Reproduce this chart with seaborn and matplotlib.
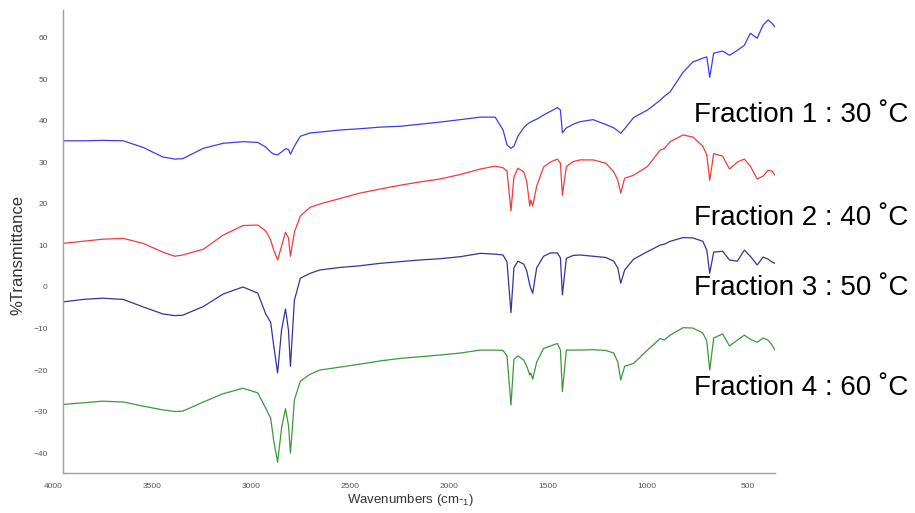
import matplotlib
matplotlib.use("Agg")
import matplotlib.pyplot as plt
import seaborn as sns
import numpy as np
from matplotlib.ticker import MultipleLocator

# wavenumber grid (cm-1) the four spectra were read at
wavenumbers = [4000, 3900, 3800, 3695, 3595, 3495, 3435, 3395, 3290, 3190,
               3090, 3015, 2975, 2950, 2935, 2915, 2895, 2875, 2860, 2850,
               2830, 2800, 2750, 2700, 2600, 2500, 2395, 2295, 2195, 2095,
               1990, 1890, 1815, 1775, 1755, 1735, 1720, 1700, 1670, 1655,
               1640, 1635, 1625, 1605, 1570, 1535, 1500, 1485, 1475, 1455,
               1420, 1385, 1320, 1255, 1215, 1195, 1180, 1160, 1115, 1045,
               980, 960, 930, 865, 815, 765, 745, 730, 710, 665,
               630, 590, 555, 525, 490, 460, 435, 415, 400]

# %T values, one list per fraction
frac1 = [35.2, 35.2, 35.3, 35.2, 33.6, 31.3, 30.8, 30.9, 33.4, 34.6,
         35.0, 34.8, 33.7, 32.5, 32.0, 31.8, 32.5, 33.3, 33.1, 32.0,
         33.9, 36.3, 37.1, 37.3, 37.8, 38.1, 38.5, 38.7, 39.2, 39.7,
         40.3, 40.9, 40.9, 37.8, 34.2, 33.4, 33.9, 36.3, 38.4, 39.1,
         39.6, 39.7, 40.0, 40.4, 41.4, 42.3, 43.2, 42.6, 37.1, 38.3,
         39.2, 39.8, 40.3, 39.1, 38.3, 37.6, 37.0, 38.1, 40.8, 42.6,
         45.0, 45.9, 47.0, 51.7, 54.2, 55.1, 55.4, 50.5, 56.3, 56.8,
         55.8, 57.0, 58.2, 61.1, 59.9, 63.1, 64.3, 63.5, 62.6]
frac2 = [10.5, 11.0, 11.5, 11.7, 10.5, 8.4, 7.4, 7.7, 9.1, 12.5,
         14.8, 14.9, 13.5, 11.3, 8.9, 6.5, 9.8, 13.2, 11.8, 7.4,
         13.2, 17.1, 19.2, 20.0, 21.3, 22.6, 23.6, 24.5, 25.3, 26.0,
         27.1, 28.4, 29.1, 28.7, 27.9, 18.3, 26.5, 28.6, 27.7, 25.3,
         19.5, 20.9, 19.5, 24.3, 28.9, 30.1, 30.8, 29.8, 22.1, 29.0,
         30.2, 30.6, 30.6, 29.8, 27.7, 25.7, 22.6, 26.2, 26.9, 29.0,
         33.0, 33.3, 35.0, 36.6, 36.1, 33.9, 31.8, 25.7, 32.1, 31.5,
         28.4, 30.1, 30.8, 29.1, 26.0, 26.7, 28.1, 27.9, 26.9]
frac3 = [-3.6, -3.0, -2.7, -3.0, -4.8, -6.5, -6.9, -6.8, -4.7, -1.7,
         0.0, -1.5, -6.5, -8.5, -14.0, -20.7, -10.4, -5.3, -10.4, -19.1,
         -3.2, 2.1, 3.3, 4.1, 4.7, 5.1, 5.7, 6.1, 6.5, 6.8,
         7.3, 8.1, 7.9, 7.7, 6.0, -6.2, 4.6, 6.2, 5.5, 3.8,
         0.5, -0.3, -1.5, 4.6, 7.4, 8.2, 8.2, 7.0, -1.9, 6.9,
         7.6, 7.7, 7.4, 7.1, 6.2, 4.6, 0.9, 4.1, 6.7, 8.5,
         10.1, 10.3, 11.0, 11.9, 11.8, 11.0, 8.9, 3.3, 8.4, 8.6,
         6.5, 6.2, 8.9, 7.4, 5.3, 7.2, 6.7, 6.0, 5.7]
frac4 = [-28.3, -27.9, -27.5, -27.7, -28.7, -29.6, -30.0, -29.9, -27.7, -25.7,
         -24.4, -25.5, -29.2, -31.6, -36.9, -42.2, -34.0, -29.3, -33.3, -40.0,
         -27.2, -22.7, -21.0, -20.0, -19.3, -18.6, -17.8, -17.2, -16.8, -16.4,
         -15.9, -15.2, -15.2, -15.3, -16.6, -28.4, -17.4, -16.6, -17.6, -19.1,
         -21.2, -20.7, -22.2, -18.1, -14.8, -14.2, -13.6, -15.2, -25.2, -15.2,
         -15.2, -15.2, -15.1, -15.3, -15.9, -18.1, -22.4, -19.1, -18.4, -15.2,
         -12.4, -12.8, -11.6, -9.8, -9.9, -11.1, -13.0, -20.0, -12.3, -11.3,
         -14.2, -12.8, -11.6, -12.6, -13.3, -12.3, -12.8, -14.0, -15.2]

labels = ["Fraction 1 : 30 ˚C", "Fraction 2 : 40 ˚C",
          "Fraction 3 : 50 ˚C", "Fraction 4 : 60 ˚C"]
colors = ["#3c3cf0", "#f03c3c", "#34349c", "#3a9a3a"]
label_y = [115, 218, 288, 388]  # pixel rows of the annotations

sns.set_style("white")
plt.rcParams['font.family'] = ['Liberation Sans', 'DejaVu Sans']

fig = plt.figure(figsize=(9.15, 5.13), dpi=100)
ax = fig.add_axes([63/915, 1-473/513, 712/915, 463/513])

for ys, c in zip([frac1, frac2, frac3, frac4], colors):
    sns.lineplot(x=wavenumbers, y=ys, color=c, lw=0.9, ax=ax)

ax.set_xlim(4000, 400)
ax.set_ylim(-44.8, 66.7)

ax.set_xticks(np.arange(4000, 499, -500))
ax.xaxis.set_minor_locator(MultipleLocator(100))
ax.set_yticks(np.arange(-40, 61, 10))
ax.yaxis.set_minor_locator(MultipleLocator(2))
ax.tick_params(which='both', direction='inout', colors='#555555',
               labelsize=6, width=0.8)
ax.tick_params(which='major', length=4)
ax.tick_params(which='minor', length=2)
ax.tick_params(axis='x', pad=5)
ax.tick_params(axis='y', pad=9)
for lbl in ax.get_xticklabels():
    lbl.set_horizontalalignment('right')

for s in ['top', 'right']:
    ax.spines[s].set_visible(False)
for s in ['left', 'bottom']:
    ax.spines[s].set_color('#a0a0a0')
    ax.spines[s].set_linewidth(1)

fig.text(18/915, 1-255/513, "%Transmittance", rotation=90,
         ha='center', va='center', fontsize=12, color='#333333')
fig.text(410/915, 1-500/513, "Wavenumbers (cm-$_{\\mathregular{1}}$)",
         ha='center', va='center', fontsize=9.5, color='#333333')

for t, yy in zip(labels, label_y):
    fig.text(694/915, 1-yy/513, t, ha='left', va='center',
             fontsize=20, color='black')

fig.savefig("out.png", dpi=100)
